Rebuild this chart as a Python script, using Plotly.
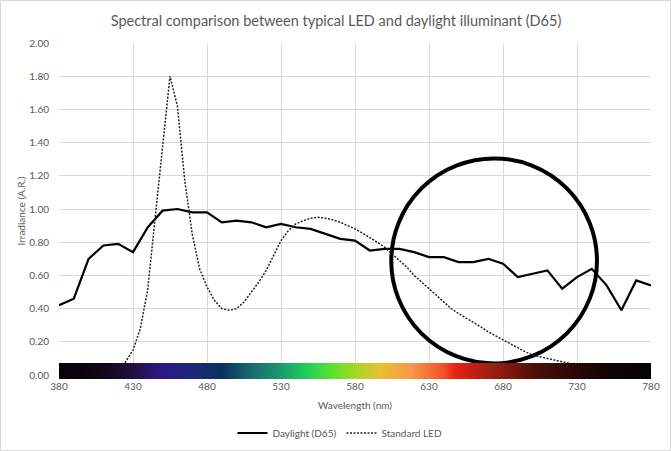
import numpy as np
import plotly.graph_objects as go

# ---- data ----
wl_d65 = list(range(380, 781, 10))
daylight = [0.42, 0.46, 0.70, 0.78, 0.79, 0.74, 0.89, 0.99, 1.00, 0.98, 0.98,
            0.92, 0.93, 0.92, 0.89, 0.91, 0.89, 0.88, 0.85, 0.82, 0.81, 0.75,
            0.76, 0.76, 0.74, 0.71, 0.71, 0.68, 0.68, 0.70, 0.67, 0.59, 0.61,
            0.63, 0.52, 0.59, 0.64, 0.54, 0.39, 0.57, 0.54]

wl_led = list(range(380, 781, 5))
led = [0.00, 0.00, 0.00, 0.00, 0.00, 0.00, 0.00, 0.01, 0.03, 0.08, 0.15, 0.28,
       0.52, 0.95, 1.38, 1.80, 1.62, 1.17, 0.85, 0.64, 0.53, 0.45, 0.40, 0.39,
       0.40, 0.44, 0.50, 0.56, 0.63, 0.72, 0.81, 0.87, 0.91, 0.93, 0.945, 0.95,
       0.945, 0.935, 0.92, 0.90, 0.88, 0.855, 0.83, 0.80, 0.77, 0.73, 0.69,
       0.65, 0.60, 0.56, 0.52, 0.48, 0.44, 0.40, 0.37, 0.345, 0.32, 0.29, 0.26,
       0.235, 0.21, 0.185, 0.16, 0.14, 0.12, 0.11, 0.10, 0.09, 0.08, 0.07,
       0.06, 0.05, 0.04, 0.035, 0.03, 0.025, 0.02, 0.02, 0.015, 0.01, 0.01]

x_ticks = [380, 430, 480, 530, 580, 630, 680, 730, 780]
y_ticks = [0.0, 0.2, 0.4, 0.6, 0.8, 1.0, 1.2, 1.4, 1.6, 1.8, 2.0]

# spectrum bar extent and colour stops (wavelength, colour)
bar_x = [380, 780]
bar_y = [-0.024, 0.072]
spec_nm = [380, 410, 430, 450, 470, 490, 512, 530, 548, 565, 580, 597, 618,
           640, 648, 665, 680, 700, 723, 745, 780]
spec_col = ["#050308", "#120618", "#22103e", "#2a1888", "#1c2878", "#0b3060",
            "#187070", "#1a9a6a", "#20d058", "#60e030", "#a0d822", "#e8c030",
            "#f89848", "#f05028", "#e82010", "#b02012", "#8a1a10", "#501008",
            "#300808", "#150505", "#030202"]

colorscale = [[(n - 380) / 400, c] for n, c in zip(spec_nm, spec_col)]

fig = go.Figure()

fig.add_trace(go.Scatter(
    x=wl_d65, y=daylight, mode="lines", name="Daylight (D65)",
    line=dict(color="black", width=2.2)))
fig.add_trace(go.Scatter(
    x=wl_led, y=led, mode="lines", name="Standard LED",
    line=dict(color="#222222", width=1.5, dash="2px,1.5px")))

# spectrum bar drawn on top of the curves
fig.add_trace(go.Scatter(
    x=[bar_x[0], bar_x[1], bar_x[1], bar_x[0], bar_x[0]],
    y=[bar_y[0], bar_y[0], bar_y[1], bar_y[1], bar_y[0]],
    mode="lines", line=dict(width=0), fill="toself",
    fillgradient=dict(type="horizontal", colorscale=colorscale),
    hoverinfo="skip", showlegend=False))

# highlight circle
fig.add_shape(type="circle", xref="x", yref="y",
              x0=604.5, x1=743.5, y0=0.07, y1=1.305,
              line=dict(color="black", width=4), layer="between")

# outer frame
L, R, T, B = 59, 651, 43, 379
W, H = 671, 451
pw, ph = R - L, B - T
fig.add_shape(type="rect", xref="paper", yref="paper",
              x0=(0.5 - L) / pw, x1=(W - 0.5 - L) / pw,
              y0=(B - (H - 0.5)) / ph, y1=(B - 0.5) / ph,
              line=dict(color="#d9d9d9", width=1), layer="below")

grey = "#595959"
fig.update_layout(
    width=W, height=H,
    margin=dict(l=L, r=W - R, t=T, b=H - B, autoexpand=False),
    paper_bgcolor="white", plot_bgcolor="white",
    title=dict(text="Spectral comparison between typical LED and daylight illuminant (D65)",
               x=336 / W, xref="container", xanchor="center", y=1 - 21 / H, yanchor="middle",
               font=dict(family="Lato", size=14.5, color=grey)),
    font=dict(family="Lato", color=grey, size=10),
    xaxis=dict(range=[380, 780], tickvals=x_ticks, showgrid=True, automargin=False,
               gridcolor="#d9d9d9", gridwidth=1, zeroline=False, showline=False,
               ticks="", tickfont=dict(size=10, color=grey),
               title=dict(text="Wavelength (nm)", font=dict(size=10, color=grey),
                          standoff=10)),
    yaxis=dict(range=[-0.024, 2.0], tickvals=y_ticks, tickformat=".2f", automargin=False,
               showgrid=True, gridcolor="#d9d9d9", gridwidth=1, zeroline=False,
               showline=False, ticks="", tickfont=dict(size=10, color=grey),
               ticklabelstandoff=9,
               title=dict(text="Irradiance (A.R.)", font=dict(size=10, color=grey),
                          standoff=1)),
    legend=dict(orientation="h", x=(340 - L) / pw, xanchor="center", y=(B - 433) / ph,
                yanchor="middle", font=dict(size=10, color=grey),
                bgcolor="rgba(0,0,0,0)", itemwidth=30),
    showlegend=True,
)

fig.write_html("out.html")
